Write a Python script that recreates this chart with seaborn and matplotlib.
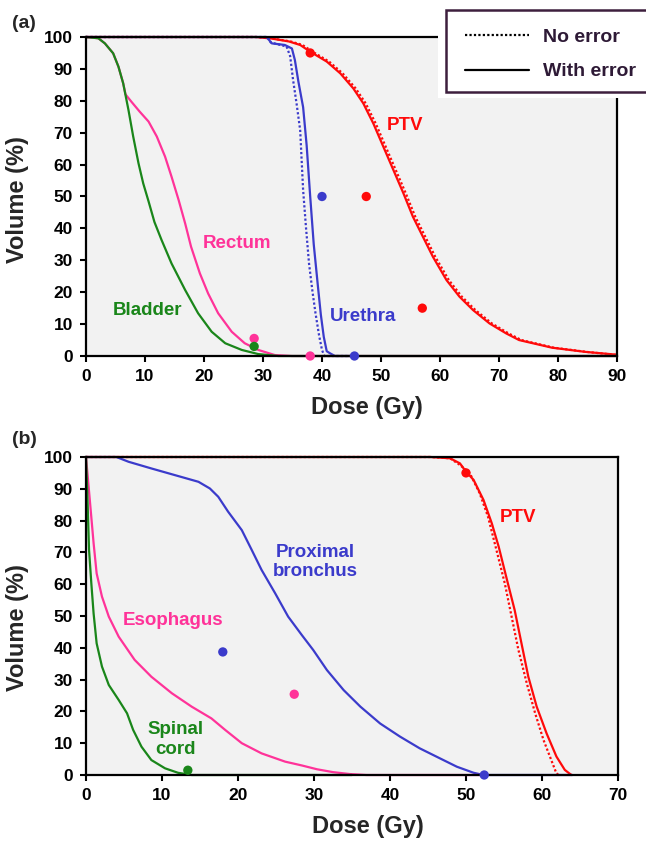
import matplotlib
matplotlib.use("Agg")
import matplotlib.pyplot as plt
from matplotlib.lines import Line2D
from matplotlib.patches import Rectangle
import seaborn as sns
import pandas as pd

# ---------------- data: panel (a) prostate ----------------
bladder_dose = [0, 2.1, 3.2, 4.6, 5.5, 6.3, 7.2, 8.0, 8.9, 9.7, 10.6, 11.6, 12.8, 14.5, 16.8, 19.0,
                21.3, 23.6, 26.4, 29.2, 32.6, 90]
bladder_vol = [100, 99.6, 98, 94.9, 90.7, 85.5, 77.1, 68.8, 60.4, 54.1, 48.5, 42, 36.4, 29, 20.7, 13.4,
               7.6, 4, 1.9, 0.6, 0, 0]

rectum_dose = [0, 2.1, 3.2, 4.6, 5.5, 6.3, 6.7, 7.7, 9.1, 10.6, 12.0, 13.4, 14.5, 15.7, 16.8, 17.8,
               19.3, 20.7, 22.4, 24.7, 26.9, 29.2, 32.0, 34.9, 90]
rectum_vol = [100, 99.6, 98, 94.9, 90.7, 85.5, 82, 79.7, 76.6, 73.5, 68.8, 62.5, 56.2, 48.9, 41.6, 34.3,
              25.9, 19.6, 13.4, 7.6, 4, 1.9, 0.3, 0, 0]

urethra_dose = [0, 30.6, 31.5, 33.7, 34.9, 35.4, 36.0, 36.5, 36.8, 37.4, 38.0, 38.6, 39.3, 39.8, 40.3,
                40.8, 41.4, 42.2, 45]
urethra_vol = [100, 100, 98, 97.5, 96.4, 92.8, 86, 81, 78, 66, 50, 35, 22, 13, 6, 1.5, 0.8, 0, 0]
urethra0_dose = [0, 30.8, 31.3, 34.0, 34.6, 35.1, 35.7, 36.3, 36.8, 37.3, 37.8, 38.4, 38.9, 39.5, 40.0,
                 40.4, 45]
urethra0_vol = [100, 100, 98.3, 97, 94, 86.5, 79, 70.8, 52, 40, 29, 20, 13.4, 6.5, 1.9, 0, 0]

ptv_a_dose = [0, 25, 28.8, 31.5, 34.4, 36.3, 38.0, 40.8, 43.1, 45.3, 47.0, 48.7, 50.4, 52.1, 53.8,
              55.4, 57.1, 58.8, 61.1, 63.3, 65.6, 68.4, 71.2, 73.4, 79, 84.6, 90]
ptv_a_vol = [100, 100, 100, 99.5, 98.6, 97.5, 95.4, 92.3, 88.6, 83.9, 79.2, 72.9, 65.6, 58.3, 51,
             43.7, 37.4, 31.1, 23.8, 18.6, 14.4, 10.2, 7.1, 5, 2.6, 1.3, 0.4]
ptv_a0_dose = [0, 25, 28.9, 31.7, 34.7, 36.7, 38.4, 41.2, 43.5, 45.7, 47.4, 49.1, 50.8, 52.5, 54.2,
               55.8, 57.5, 59.2, 61.5, 63.7, 66.0, 68.8, 71.6, 73.8, 79.3, 84.8, 90]
ptv_a0_vol = [100, 100, 100, 99.5, 98.6, 97.5, 95.4, 92.3, 88.6, 83.9, 79.2, 72.9, 65.6, 58.3, 51,
              43.7, 37.4, 31.1, 23.8, 18.6, 14.4, 10.2, 7.1, 5, 2.6, 1.3, 0.3]

dots_a_dose = [38, 47.5, 57, 40, 45.5, 28.5, 38, 28.5]
dots_a_vol = [95, 50, 15, 50, 0, 5.5, 0, 3]
dots_a_organ = ["PTV", "PTV", "PTV", "Urethra", "Urethra", "Rectum", "Rectum", "Bladder"]

# ---------------- data: panel (b) lung ----------------
ptv_b_dose = [0, 45.3, 47.9, 49.2, 50.0, 51.0, 52.3, 53.4, 54.3, 55.4, 56.4, 57.3, 58.2, 59.3, 60.6,
              61.9, 63.0, 63.7, 63.9]
ptv_b_vol = [100, 100, 99.6, 98, 95.4, 92.8, 86.5, 79.1, 71.8, 61.3, 51.9, 41.4, 30.9, 21.5, 13.1,
             5.8, 1.6, 0.3, 0]
ptv_b0_dose = [0, 45.3, 47.9, 49.2, 50.5, 51.8, 52.9, 54.0, 55.1, 56.0, 56.9, 58.0, 59.1, 60.2, 61.3,
               61.9, 62.2]
ptv_b0_vol = [100, 100, 99.6, 97.5, 94.9, 88.6, 81.2, 70.8, 60.3, 49.8, 39.3, 28.8, 19.4, 11, 4.2,
              0.5, 0]

bronchus_dose = [0, 4.0, 5.6, 8.6, 11.7, 14.8, 16.3, 17.4, 18.7, 20.5, 21.8, 23.1, 24.9, 26.6, 28.4,
                 29.9, 31.7, 33.9, 36.1, 38.7, 41.3, 43.9, 46.6, 48.8, 51.0, 52.3, 64]
bronchus_vol = [100, 100, 98.5, 96.4, 94.3, 92.2, 90.1, 87.5, 82.8, 77, 70.8, 64.5, 57.1, 49.8, 44,
                39.3, 33, 26.7, 21.5, 16.2, 12.1, 8.4, 5.2, 2.6, 0.7, 0, 0]

esophagus_dose = [0, 0.5, 1.0, 1.4, 2.1, 3.0, 4.3, 6.4, 8.6, 11.3, 13.9, 16.5, 18.3, 20.5, 23.1,
                  26.2, 28.4, 30.4, 32.5, 34.7, 36.9, 52]
esophagus_vol = [100, 86.5, 72.9, 63.4, 56.1, 49.8, 43.5, 36.2, 30.9, 25.7, 21.5, 17.8, 14.2, 10, 6.8,
                 4.2, 3, 1.8, 0.9, 0.3, 0, 0]

spinal_dose = [0, 0.2, 0.4, 0.7, 1.0, 1.4, 2.1, 3.0, 4.3, 5.4, 6.2, 7.3, 8.6, 10.4, 12.1, 13.9, 35]
spinal_vol = [100, 86.5, 70.8, 60.3, 50.8, 41.4, 34.1, 28.3, 23.6, 19.4, 14.2, 8.9, 4.7, 2.1, 0.7, 0, 0]

dots_b_dose = [50, 18, 52.4, 27.4, 13.4]
dots_b_vol = [95, 38.7, 0, 25.4, 1.5]
dots_b_organ = ["PTV", "Proximal bronchus", "Proximal bronchus", "Esophagus", "Spinal cord"]

legend_labels = ["No error", "With error"]

# ---------------- style ----------------
RED, BLUE, PINK, GREEN = "#FF0A0A", "#3B3BCB", "#FF3399", "#1A861A"
colors = {"PTV": RED, "Urethra": BLUE, "Rectum": PINK, "Bladder": GREEN,
          "Proximal bronchus": BLUE, "Esophagus": PINK, "Spinal cord": GREEN}

sns.set_theme(style="ticks")
plt.rcParams["font.family"] = ["Liberation Sans", "DejaVu Sans"]
plt.rcParams["font.weight"] = "bold"
plt.rcParams["axes.labelweight"] = "bold"

fig = plt.figure(figsize=(6.46, 8.46), dpi=100)
ax1 = fig.add_axes([86 / 646, 1 - 356 / 846, (617 - 86) / 646, (356 - 37) / 846])
ax2 = fig.add_axes([86 / 646, 1 - 775 / 846, (618 - 86) / 646, (775 - 457) / 846])

LW = 1.6


def curve(ax, dose, vol, color, dotted=False):
    df = pd.DataFrame({"dose": dose, "vol": vol})
    sns.lineplot(data=df, x="dose", y="vol", ax=ax, color=color, lw=LW, sort=False,
                 estimator=None, linestyle=(0, (1, 1)) if dotted else "-", clip_on=False)


def dots(ax, dose, vol, organ):
    df = pd.DataFrame({"dose": dose, "vol": vol, "organ": organ})
    sns.scatterplot(data=df, x="dose", y="vol", hue="organ", palette=colors, ax=ax, s=45,
                    edgecolor="none", legend=False, clip_on=False, zorder=10)


# panel (a)
curve(ax1, ptv_a0_dose, ptv_a0_vol, RED, dotted=True)
curve(ax1, ptv_a_dose, ptv_a_vol, RED)
curve(ax1, urethra0_dose, urethra0_vol, BLUE, dotted=True)
curve(ax1, urethra_dose, urethra_vol, BLUE)
curve(ax1, rectum_dose, rectum_vol, PINK)
curve(ax1, bladder_dose, bladder_vol, GREEN)
dots(ax1, dots_a_dose, dots_a_vol, dots_a_organ)

# panel (b)
curve(ax2, ptv_b0_dose, ptv_b0_vol, RED, dotted=True)
curve(ax2, ptv_b_dose, ptv_b_vol, RED)
curve(ax2, bronchus_dose, bronchus_vol, BLUE)
curve(ax2, esophagus_dose, esophagus_vol, PINK)
curve(ax2, spinal_dose, spinal_vol, GREEN)
dots(ax2, dots_b_dose, dots_b_vol, dots_b_organ)

for ax, xmax in ((ax1, 90), (ax2, 70)):
    ax.set_facecolor("#F2F2F2")
    ax.set_xlim(0, xmax)
    ax.set_ylim(0, 100)
    ax.set_xticks(range(0, xmax + 1, 10))
    ax.set_yticks(range(0, 101, 10))
    for s in ax.spines.values():
        s.set_visible(True)
        s.set_linewidth(1.6)
        s.set_color("black")
    ax.tick_params(direction="out", length=4.5, width=1.5, labelsize=12.5, pad=5, colors="black")
    ax.set_xlabel("Dose (Gy)", fontsize=17, fontweight="bold")
    ax.set_ylabel("Volume (%)", fontsize=17, fontweight="bold")
    ax.xaxis.set_label_coords(0.529, -0.125)
    for lab in ax.get_xticklabels() + ax.get_yticklabels():
        lab.set_fontweight("bold")
ax1.yaxis.set_label_coords(-0.107, 0.49)
ax2.yaxis.set_label_coords(-0.107, 0.465)

lab_kw = dict(fontsize=13.5, fontweight="bold", ha="center", va="center")
ax1.text(54.0, 72.4, "PTV", color=RED, **lab_kw)
ax1.text(25.6, 35.2, "Rectum", color=PINK, **lab_kw)
ax1.text(10.4, 14.3, "Bladder", color=GREEN, **lab_kw)
ax1.text(47, 12.4, "Urethra", color=BLUE, **lab_kw)

ax2.text(56.8, 80.9, "PTV", color=RED, **lab_kw)
ax2.text(30.2, 67, "Proximal\nbronchus", color=BLUE, linespacing=1.2, **lab_kw)
ax2.text(11.4, 48.5, "Esophagus", color=PINK, **lab_kw)
ax2.text(11.8, 11.2, "Spinal\ncord", color=GREEN, linespacing=1.2, **lab_kw)

fig.text(12 / 646, 1 - 15 / 846, "(a)", fontsize=14, fontweight="bold", ha="left", va="top")
fig.text(12 / 646, 1 - 431 / 846, "(b)", fontsize=14, fontweight="bold", ha="left", va="top")

# white patch behind the legend, and the legend frame (runs off the right edge)
fig.patches.append(Rectangle((438 / 646, 1 - 98 / 846), 1, 1, transform=fig.transFigure,
                             facecolor="white", edgecolor="none", zorder=5))
fig.patches.append(Rectangle((446 / 646, 1 - 92 / 846), 220 / 646, 82 / 846,
                             transform=fig.transFigure, facecolor="white",
                             edgecolor="#3d1f3d", linewidth=1.8, zorder=5.5))
handles = [Line2D([], [], color="black", lw=1.6, linestyle=(0, (1, 1))),
           Line2D([], [], color="black", lw=1.6)]
leg = fig.legend(handles, legend_labels, loc="upper left",
                 bbox_to_anchor=(446 / 646, 1 - 10 / 846), bbox_transform=fig.transFigure,
                 borderaxespad=0, frameon=False,
                 handlelength=3.3, handletextpad=0.75, labelspacing=0.85, borderpad=0.96,
                 prop={"weight": "bold", "size": 14, "family": ["Liberation Sans"]})
leg.set_zorder(6)
for t in leg.get_texts():
    t.set_color("#2e1a36")

fig.savefig("out.png", dpi=100)
